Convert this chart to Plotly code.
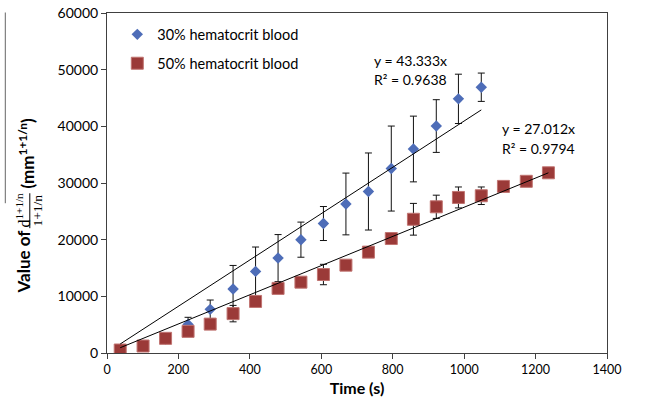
import plotly.graph_objects as go

# ---- data ----
time_s = [37, 101, 164, 227, 289, 353, 416, 479, 543, 606, 669, 732, 796, 858,
          922, 984, 1048, 1110, 1174, 1236]

hct30_values = [500, 1250, 2450, 5050, 7700, 11300, 14400, 16750, 20000, 22850,
                26300, 28500, 32550, 36000, 40050, 44850, 46900]
hct30_errors = [200, 300, 400, 1250, 1650, 4150, 4300, 4150, 3100, 3000,
                5450, 6800, 7500, 5800, 4650, 4350, 2500]

hct50_values = [530, 1230, 2590, 3820, 5100, 6950, 9100, 11400, 12500, 13850,
                15500, 17800, 20200, 23600, 25800, 27450, 27750, 29400, 30300, 31800]
hct50_errors = [300, 400, 500, 500, 500, 1450, 600, 600, 600, 1800,
                600, 600, 600, 2800, 2050, 1850, 1550, 500, 500, 400]

# trend line end points (as drawn in the chart)
trend30_x = [37, 1048]
trend30_y = [1590, 42900]
trend50_x = [37, 1236]
trend50_y = [930, 31800]

series_names = ["30% hematocrit blood", "50% hematocrit blood"]
trend_labels = [("y = 43.333x", "R² = 0.9638"), ("y = 27.012x", "R² = 0.9794")]

x_ticks = [0, 200, 400, 600, 800, 1000, 1200, 1400]
y_ticks = [0, 10000, 20000, 30000, 40000, 50000, 60000]

BLUE = "#4E6DB8"
RED = "#9B3A38"
FONT = "Lato"

n30 = len(hct30_values)
fig = go.Figure()
fig.add_trace(go.Scatter(
    x=time_s[:n30], y=hct30_values, mode="markers", name=series_names[0],
    legendgroup="a",
    marker=dict(symbol="diamond", size=8.8, color=BLUE, line=dict(width=0)),
    error_y=dict(type="data", array=hct30_errors, visible=True,
                 color="#111111", thickness=1, width=3.5),
))
fig.add_trace(go.Scatter(
    x=time_s, y=hct50_values, mode="markers", name=series_names[1],
    legendgroup="b",
    marker=dict(symbol="square", size=12, color=RED,
                line=dict(width=1, color="#C07370")),
    error_y=dict(type="data", array=hct50_errors, visible=True,
                 color="#111111", thickness=1, width=3.5),
))
fig.add_trace(go.Scatter(x=trend30_x, y=trend30_y, mode="lines", showlegend=False,
                         line=dict(color="black", width=1), hoverinfo="skip"))
fig.add_trace(go.Scatter(x=trend50_x, y=trend50_y, mode="lines", showlegend=False,
                         line=dict(color="black", width=1), hoverinfo="skip"))

W, H = 652, 407
L, R, T, B = 106.7, 45.3, 12.5, 54
pw, ph = W - L - R, H - T - B


def px(xp):
    return (xp - L) / pw


def py(yp):
    return (H - B - yp) / ph


annos = []
# trendline equations
for (eq, r2), (x0, y0) in zip(trend_labels, [(372, 60), (500, 128.5)]):
    annos.append(dict(x=px(x0), y=py(y0), xref="paper", yref="paper", text=eq,
                      showarrow=False, xanchor="left", yanchor="middle",
                      font=dict(family=FONT, size=14, color="black")))
    annos.append(dict(x=px(x0), y=py(y0 + 19.5), xref="paper", yref="paper", text=r2,
                      showarrow=False, xanchor="left", yanchor="middle",
                      font=dict(family=FONT, size=14, color="black")))

# y axis title pieces (rotated)
annos.append(dict(x=px(23), y=py(261), xref="paper", yref="paper",
                  text="<b>Value of</b>", textangle=-90, showarrow=False,
                  xanchor="center", yanchor="middle",
                  font=dict(family=FONT, size=17, color="black")))
annos.append(dict(x=px(23), y=py(210), xref="paper", yref="paper",
                  text="d<sup>1+1/n</sup>", textangle=-90, showarrow=False,
                  xanchor="center", yanchor="middle",
                  font=dict(family="Liberation Serif", size=16, color="black")))
annos.append(dict(x=px(37), y=py(210), xref="paper", yref="paper",
                  text="1+1/n", textangle=-90, showarrow=False,
                  xanchor="center", yanchor="middle",
                  font=dict(family="Liberation Serif", size=13.5, color="black")))
annos.append(dict(x=px(26), y=py(153), xref="paper", yref="paper",
                  text="<b>(mm<sup>1+1/n</sup>)</b>", textangle=-90, showarrow=False,
                  xanchor="center", yanchor="middle",
                  font=dict(family=FONT, size=17, color="black")))

shapes = [
    # fraction bar
    dict(type="line", xref="paper", yref="paper", x0=px(29.5), x1=px(29.5),
         y0=py(228), y1=py(193), line=dict(color="black", width=1)),
    # thin stray rule at far left of the reference image
    dict(type="line", xref="paper", yref="paper", x0=px(5), x1=px(5),
         y0=py(12), y1=py(203), line=dict(color="#666666", width=1)),
]

axis_common = dict(showline=True, linecolor="#404040", linewidth=1, mirror=True,
                   ticks="outside", ticklen=5, tickcolor="#404040", showgrid=False,
                   zeroline=False, automargin=False)

fig.update_layout(
    width=W, height=H,
    margin=dict(l=L, r=R, t=T, b=B, pad=0, autoexpand=False),
    paper_bgcolor="white", plot_bgcolor="white",
    font=dict(family=FONT, color="black"),
    xaxis=dict(range=[0, 1400], tickvals=x_ticks,
               tickfont=dict(family=FONT, size=12.5, color="black"),
               title=dict(text="<b>Time (s)</b>", standoff=6,
                          font=dict(family=FONT, size=16, color="black")),
               **axis_common),
    yaxis=dict(range=[0, 60000], tickvals=y_ticks, tickformat="d",
               tickfont=dict(family=FONT, size=14, color="black"),
               **axis_common),
    showlegend=True,
    legend=dict(x=px(117), y=py(48.5), xref="paper", yref="paper",
                xanchor="left", yanchor="middle", bgcolor="rgba(0,0,0,0)",
                font=dict(family=FONT, size=14.5, color="black"),
                tracegroupgap=7, itemclick=False),
    annotations=annos,
    shapes=shapes,
)

fig.write_html("out.html")
